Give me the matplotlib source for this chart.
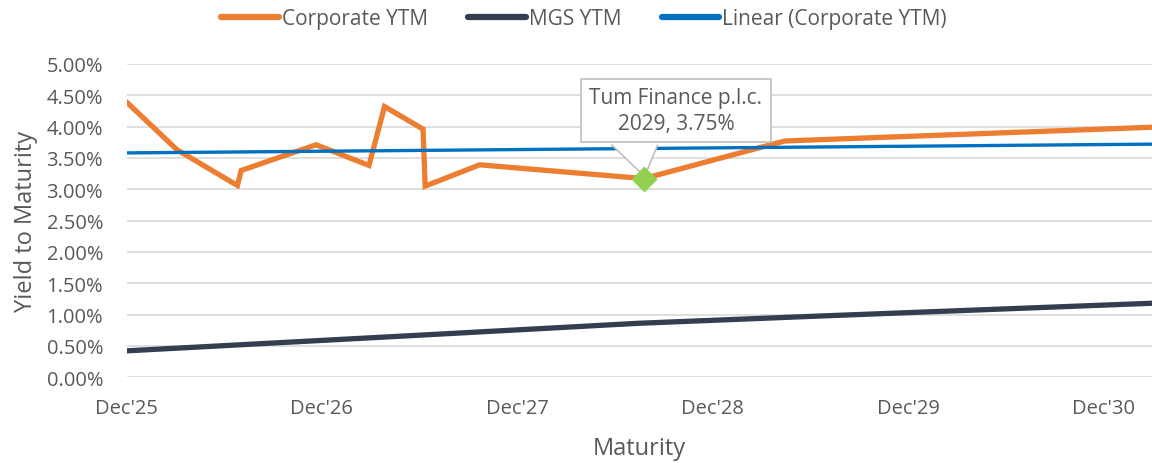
import matplotlib
matplotlib.use("Agg")
import matplotlib.pyplot as plt
import matplotlib.dates as mdates
import matplotlib.transforms as mtransforms
from matplotlib.patches import Polygon

# ---- data ----
corp_dates = ["2025-12-01", "2026-03-05", "2026-06-26", "2026-07-03", "2026-11-20",
              "2027-02-27", "2027-03-28", "2027-06-08", "2027-06-12", "2027-09-22",
              "2028-07-25", "2029-04-14", "2031-03-02"]
corp_ytm = [4.39, 3.63, 3.06, 3.30, 3.71, 3.38, 4.32, 3.96, 3.05, 3.39, 3.17, 3.77, 3.99]

mgs_dates = ["2025-12-01", "2027-06-01", "2028-07-15", "2029-06-01", "2031-03-02"]
mgs_ytm = [0.42, 0.67, 0.86, 0.97, 1.18]

trend_dates = ["2025-12-01", "2031-03-02"]
trend_ytm = [3.58, 3.72]

highlight_date = "2028-07-25"
highlight_ytm = 3.17
highlight_label = "Tum Finance p.l.c.\n2029, 3.75%"

tick_dates = ["2025-12-01", "2026-12-01", "2027-12-01", "2028-12-01", "2029-12-01", "2030-12-01"]
tick_labels = ["Dec'25", "Dec'26", "Dec'27", "Dec'28", "Dec'29", "Dec'30"]
y_ticks = [0.0, 0.5, 1.0, 1.5, 2.0, 2.5, 3.0, 3.5, 4.0, 4.5, 5.0]

# ---- style ----
plt.rcParams['font.family'] = ['Open Sans', 'DejaVu Sans']
TXT = "#595959"
BORDER = "#BFBFBF"

to_num = lambda ds: mdates.datestr2num(ds)

fig = plt.figure(figsize=(11.52, 4.64), dpi=100)
ax = fig.add_axes([0.110, 0.185, 0.890, 0.675])

ax.plot(to_num(corp_dates), corp_ytm, color="#ED7D31", lw=3.8, solid_joinstyle="miter",
        label="Corporate YTM", zorder=3)
ax.plot(to_num(mgs_dates), mgs_ytm, color="#333F50", lw=3.8, label="MGS YTM", zorder=3)
ax.plot(to_num(trend_dates), trend_ytm, color="#0070C0", lw=2.4,
        label="Linear (Corporate YTM)", zorder=4)

hx = to_num(highlight_date)
ax.plot([hx], [highlight_ytm], marker="D", ms=13, color="#92D050", mec="none", zorder=7)

# callout box (offset in points from the highlighted point)
ax.annotate(highlight_label, xy=(hx, highlight_ytm), xytext=(23, 49),
            textcoords="offset points", ha="center", va="center",
            fontsize=15, color=TXT, linespacing=1.3, zorder=5,
            bbox=dict(boxstyle="square,pad=0.4", fc="white", ec=BORDER, lw=1.2))
# callout pointer, drawn in points relative to the highlighted point
ptr_trans = (mtransforms.Affine2D().scale(fig.dpi / 72.0)
             + mtransforms.ScaledTranslation(hx, highlight_ytm, ax.transData))
ptr = Polygon([(-23.5, 24.5), (0.5, 1.5), (10, 24.5)], closed=False,
              fc="white", ec=BORDER, lw=1.2, transform=ptr_trans, zorder=6)
ax.add_patch(ptr)

ax.set_ylim(0, 5.0)
ax.set_yticks(y_ticks)
ax.set_yticklabels([f"{v:.2f}%" for v in y_ticks])
ax.set_xlim(to_num("2025-12-01"), to_num("2031-03-02"))
ax.set_xticks(to_num(tick_dates))
ax.set_xticklabels(tick_labels)

ax.grid(axis="y", color="#D9D9D9", lw=1.2)
ax.set_axisbelow(True)
for s in ax.spines.values():
    s.set_visible(False)
ax.tick_params(axis="both", length=0, labelsize=14.5, labelcolor=TXT)
ax.tick_params(axis="x", pad=15)
ax.tick_params(axis="y", pad=17)

ax.set_xlabel("Maturity", fontsize=17, color=TXT, labelpad=13)
ax.set_ylabel("Yield to Maturity", fontsize=17, color=TXT, labelpad=6)

leg = fig.legend(loc="upper center", bbox_to_anchor=(0.507, 1.02), ncol=3, frameon=False,
                 fontsize=15, handlelength=2.75, handletextpad=0.15, columnspacing=1.95,
                 labelcolor=TXT)
for line in leg.get_lines():
    line.set_linewidth(4.5)
    line.set_solid_capstyle("round")

fig.savefig("out.png", dpi=100)
